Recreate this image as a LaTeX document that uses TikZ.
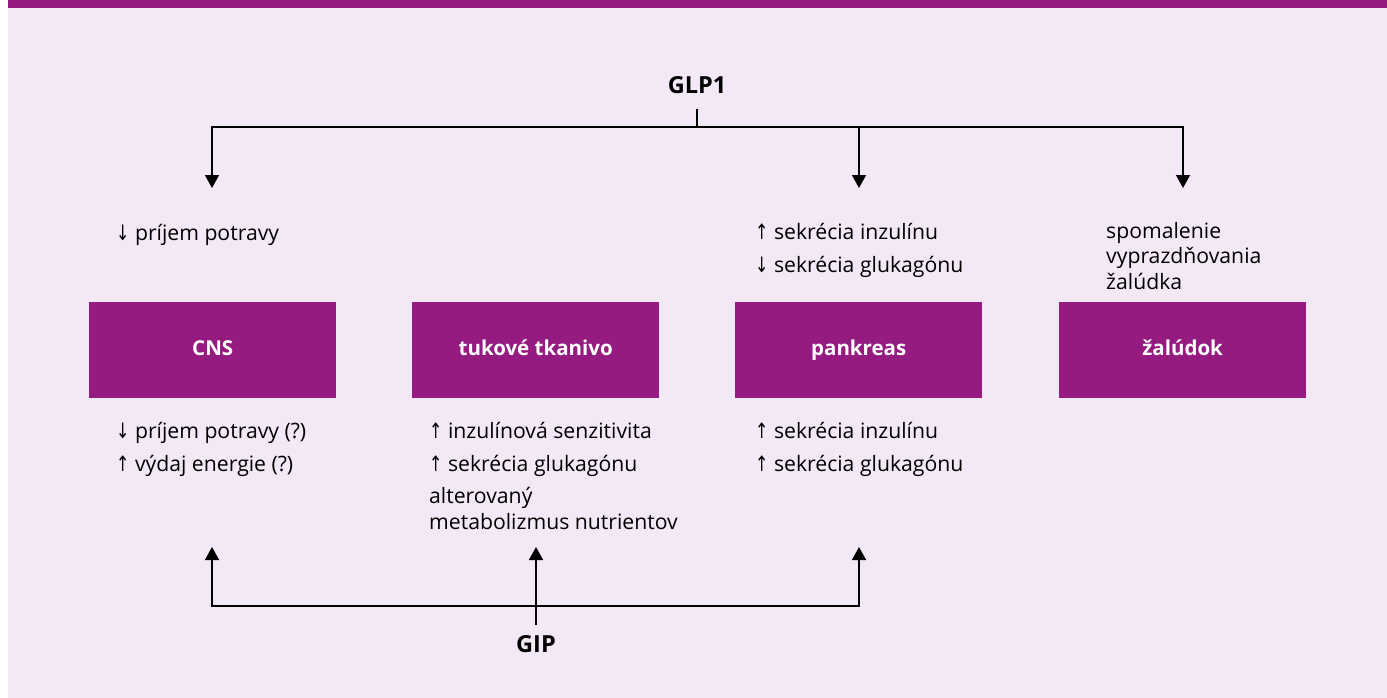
\documentclass[tikz,border=0pt]{standalone}
\usepackage{fontspec}
\setmainfont{Open Sans}
\newfontfamily\arrfont{DejaVu Sans}
\newcommand{\upa}{{\arrfont\scalebox{0.75}[1]{↑}}}
\newcommand{\dna}{{\arrfont\scalebox{0.75}[1]{↓}}}
\usetikzlibrary{arrows.meta}
\definecolor{pu}{RGB}{149,27,128}
\definecolor{bg}{RGB}{243,232,245}
\begin{document}
\begin{tikzpicture}[x=1pt,y=-1pt,
  box/.style={fill=pu, text=white, font=\fontsize{20.5}{24}\selectfont\bfseries, minimum width=247pt, minimum height=96pt, inner sep=0pt, text height=15pt, text depth=5pt, anchor=north west},
  lbl/.style={anchor=base west, inner sep=0pt, font=\fontsize{21.2}{25}\selectfont},
  hd/.style={inner sep=0pt, font=\fontsize{23.5}{25}\selectfont\bfseries, anchor=base},
  conn/.style={line width=1.5pt},
  arr/.style={conn, -{Triangle[width=14pt,length=13pt]}}]
\useasboundingbox (0,0) rectangle (1387,698);
\fill[white] (0,0) rectangle (1387,698);
\fill[bg] (8,0) rectangle (1387,698);
\fill[pu] (8,0) rectangle (1387,8);

% headers
\node[hd] (glp) at (697,94) {GLP1};
\node[hd] (gip) at (536,652) {GIP};

% boxes
\node[box] (cns) at (89,302) {CNS};
\node[box] (tuk) at (412,302) {tukové tkanivo};
\node[box] (pan) at (735,302) {pankreas};
\node[box] (zal) at (1059,302) {žalúdok};

% upper texts
\node[lbl] (u1) at (116,240) {\dna\ príjem potravy};
\node[lbl] (u3a) at (755,239) {\upa\ sekrécia inzulínu};
\node[lbl] (u3b) at (755,272) {\dna\ sekrécia glukagónu};
\node[lbl] (u4a) at (1106,238) {spomalenie};
\node[lbl] (u4b) at (1106,263) {vyprazdňovania};
\node[lbl] (u4c) at (1106,289) {žalúdka};

% lower texts
\node[lbl] (l1a) at (116,438) {\dna\ príjem potravy (?)};
\node[lbl] (l1b) at (116,471) {\upa\ výdaj energie (?)};
\node[lbl] (l2a) at (429,438) {\upa\ inzulínová senzitivita};
\node[lbl] (l2b) at (429,471) {\upa\ sekrécia glukagónu};
\node[lbl] (l2c) at (429,503) {alterovaný};
\node[lbl] (l2d) at (429,529) {metabolizmus nutrientov};
\node[lbl] (l3a) at (755,438) {\upa\ sekrécia inzulínu};
\node[lbl] (l3b) at (755,471) {\upa\ sekrécia glukagónu};

% GLP1 connectors
\coordinate (glpb) at (697,109);
\coordinate (jt) at (697,127);
\coordinate (a1) at (212,188);
\coordinate (a3) at (859,188);
\coordinate (a4) at (1183,188);
\draw[conn] (glpb) -- (jt);
\draw[arr] (jt) -| (a1);
\draw[arr] (jt) -| (a3);
\draw[arr] (jt) -| (a4);

% GIP connectors
\coordinate (gipt) at (536,625);
\coordinate (jb) at (536,606);
\coordinate (b1) at (212,547);
\coordinate (b2) at (536,547);
\coordinate (b3) at (859,547);
\draw[arr] (jb) -| (b1);
\draw[arr] (jb) -| (b3);
\draw[arr] (gipt) -- (b2);
\end{tikzpicture}
\end{document}
